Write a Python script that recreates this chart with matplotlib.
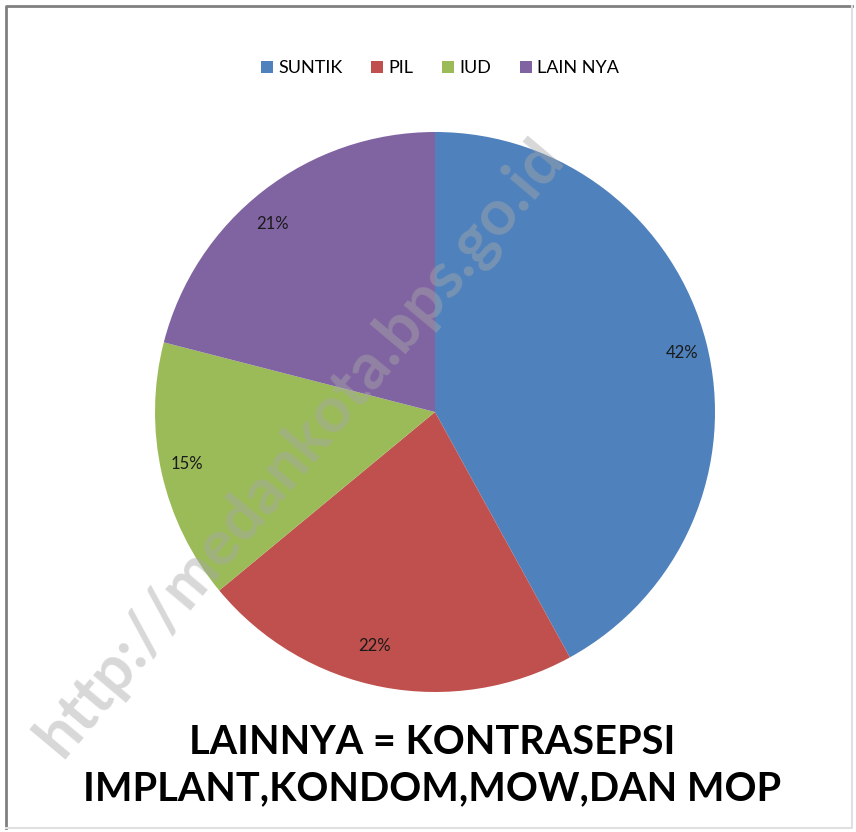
import matplotlib.pyplot as plt
from matplotlib.lines import Line2D

labels = ['SUNTIK', 'PIL', 'IUD', 'LAIN NYA']
shares = [42, 22, 15, 21]
colors = ['#4F81BD', '#C0504D', '#9BBB59', '#8064A2']
note_lines = ['LAINNYA = KONTRASEPSI', 'IMPLANT,KONDOM,MOW,DAN MOP']
watermark = 'http://medankota.bps.go.id'

W, H = 856, 832
fig = plt.figure(figsize=(W / 100, H / 100), dpi=100)

# frame: dark top/left, faint right/bottom
fig.add_artist(Line2D([6 / W, 6 / W, 852 / W], [4 / H, 1 - 6 / H, 1 - 6 / H],
                      transform=fig.transFigure, color='#808080', linewidth=2))
fig.add_artist(Line2D([852 / W, 852 / W, 6 / W], [1 - 6 / H, 4 / H, 4 / H],
                      transform=fig.transFigure, color='#e0e0e0', linewidth=1.5))

cx, cy, r = 435, 412, 280
ax = fig.add_axes([(cx - r) / W, (H - cy - r) / H, 2 * r / W, 2 * r / H])
wedges, texts = ax.pie(shares, colors=colors, startangle=90, counterclock=False,
                       radius=1, labels=[f'{s}%' for s in shares], labeldistance=0.85,
                       wedgeprops=dict(linewidth=0),
                       textprops=dict(fontsize=12, color='#1a1a1a', family='Lato'))
ax.set_xlim(-1, 1)
ax.set_ylim(-1, 1)
ax.set_aspect('equal')
ax.axis('off')

fig.legend(wedges, labels, loc='center', bbox_to_anchor=(440 / W, 1 - 68 / H), ncol=4,
           frameon=False, handlelength=0.65, handleheight=0.65, handletextpad=0.3,
           columnspacing=1.6, prop=dict(family='Lato', size=13))

fig.text(432 / W, 1 - 742 / H, note_lines[0], ha='center', va='center',
         fontsize=28.5, fontweight='bold', family='Lato')
fig.text(432 / W, 1 - 789 / H, note_lines[1], ha='center', va='center',
         fontsize=28.5, fontweight='bold', family='Lato')

fig.text(300 / W, 1 - 448 / H, watermark, ha='center', va='center', rotation=50,
         fontsize=46, fontweight='bold', family='Lato', color='#a8a8a8', alpha=0.45)

fig.savefig('out.png', dpi=100, facecolor='white')
